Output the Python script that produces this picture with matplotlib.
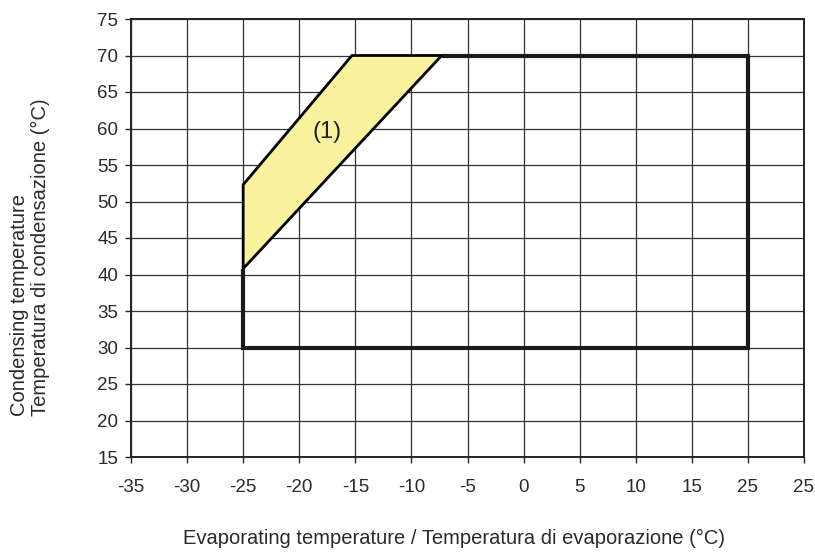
import matplotlib.pyplot as plt

plt.rcParams['font.family'] = ['Liberation Sans', 'DejaVu Sans']

# axis ticks (labels as printed on the original chart)
x_ticks = [-35, -30, -25, -20, -15, -10, -5, 0, 5, 10, 15, 20, 25]
x_labels = ['-35', '-30', '-25', '-20', '-15', '-10', '-5', '0', '5', '10', '15', '25', '25']
y_ticks = [15, 20, 25, 30, 35, 40, 45, 50, 55, 60, 65, 70, 75]

# operating envelope outline
env_x = [-7.3, 20, 20, -25, -25]
env_y = [70, 70, 30, 30, 40.8]

# zone (1)
zone_x = [-25, -15.3, -7.3, -25]
zone_y = [52.3, 70, 70, 40.8]
zone_label = '(1)'
zone_label_pos = (-17.5, 59.5)

fig = plt.figure(figsize=(8.15, 5.52), dpi=100)
ax = fig.add_axes([131 / 815, 1 - 457 / 552, (804 - 131) / 815, (457 - 19) / 552])

ax.set_xlim(-35, 25)
ax.set_ylim(15, 75)
ax.set_xticks(x_ticks)
ax.set_xticklabels(x_labels)
ax.set_yticks(y_ticks)
ax.tick_params(labelsize=13.5, length=4, width=1, color='#222222', pad=12, labelcolor='#2a2a2a')
ax.tick_params(axis='y', pad=5)
ax.grid(True, color='#333333', linewidth=0.9)
ax.set_axisbelow(True)
for s in ax.spines.values():
    s.set_linewidth(1.4)
    s.set_color('#222222')

ax.fill(zone_x, zone_y, facecolor='#faf29e', edgecolor='black', linewidth=2, zorder=3)
ax.plot(env_x, env_y, color='#1a1a1a', linewidth=3, solid_capstyle='butt',
        solid_joinstyle='miter', zorder=4)
ax.text(zone_label_pos[0], zone_label_pos[1], zone_label, fontsize=17,
        ha='center', va='center', color='#222222', zorder=5)

fig.text(454 / 815, 1 - 538 / 552, 'Evaporating temperature / Temperatura di evaporazione (°C)',
         ha='center', va='center', fontsize=14.5, color='#2a2a2a')
fig.text(30 / 815, 1 - 257 / 552, 'Condensing temperature\nTemperatura di condensazione (°C)',
         ha='center', va='center', rotation=90, fontsize=14.5, color='#2a2a2a',
         linespacing=1.15, multialignment='left')

fig.savefig('out.png', dpi=100)
